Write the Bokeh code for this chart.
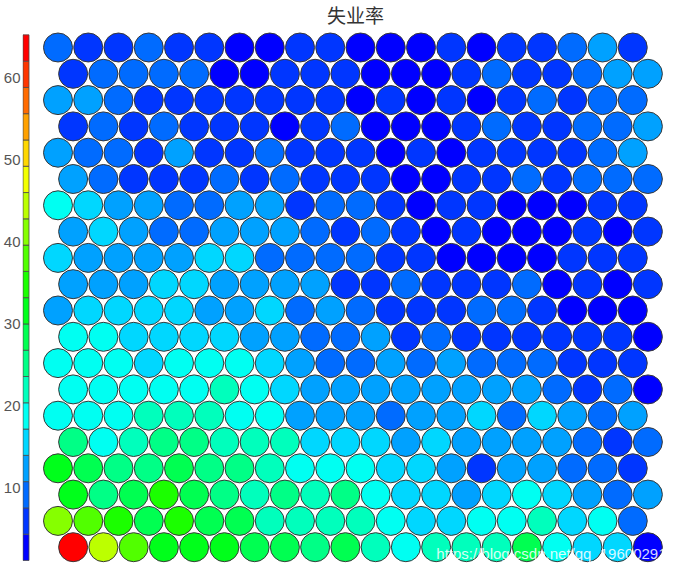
import colorsys
from bokeh.plotting import figure
from bokeh.models import Range1d, LinearAxis, LinearColorMapper, ColumnDataSource, FixedTicker
from bokeh.transform import transform
from bokeh.core.properties import value
from bokeh.embed import file_html
from bokeh.resources import INLINE

title_text = "失业率"
watermark = "https://blog.csdn.net/qq_19600291"
cbar_ticks = [10, 20, 30, 40, 50, 60]

# SOM component plane values, rows from top to bottom, 20 units per row
r00 = [9.2, 5.7, 6.1, 8.8, 5.9, 6.4, 3.0, 2.6, 5.5, 6.0, 3.4, 2.8, 2.5, 6.2, 3.1, 5.8, 6.3, 9.4, 12.5, 5.6]
r01 = [5.9, 9.5, 9.0, 8.7, 9.3, 2.4, 2.9, 6.1, 5.7, 6.0, 2.7, 2.3, 3.2, 6.4, 9.1, 5.8, 6.2, 9.6, 12.4, 12.9]
r02 = [12.6, 13.1, 9.2, 5.8, 6.3, 5.6, 7.0, 6.1, 5.9, 6.2, 2.6, 6.0, 2.8, 5.7, 3.0, 6.3, 10.1, 5.9, 9.4, 9.0]
r03 = [5.7, 9.3, 6.4, 9.7, 6.0, 5.8, 6.2, 2.5, 6.1, 9.9, 2.9, 2.4, 3.1, 6.0, 10.2, 5.9, 6.3, 9.2, 9.5, 12.8]
r04 = [12.4, 9.4, 9.8, 5.9, 13.2, 6.1, 5.7, 9.1, 6.2, 6.0, 6.6, 2.7, 6.5, 2.6, 6.1, 5.8, 6.3, 6.0, 9.7, 13.5]
r05 = [12.2, 9.3, 5.8, 6.1, 6.3, 9.5, 6.0, 9.2, 5.9, 6.2, 6.8, 2.8, 3.0, 6.1, 5.7, 10.0, 6.2, 9.3, 9.6, 9.4]
r06 = [19.2, 16.3, 13.0, 13.2, 9.4, 9.1, 13.1, 12.9, 5.8, 9.3, 10.0, 6.7, 2.9, 6.1, 5.9, 2.6, 2.5, 3.0, 6.2, 6.0]
r07 = [12.3, 16.1, 12.7, 8.9, 9.3, 12.8, 12.6, 13.2, 9.2, 5.6, 9.8, 6.5, 2.8, 6.0, 2.6, 2.4, 2.7, 6.4, 2.9, 6.6]
r08 = [15.8, 12.8, 12.7, 12.9, 13.2, 16.4, 16.5, 8.8, 9.2, 9.5, 9.9, 6.4, 6.6, 2.7, 2.5, 2.8, 2.6, 6.6, 6.5, 7.0]
r09 = [12.5, 12.6, 12.4, 16.3, 16.4, 12.8, 12.9, 13.2, 13.1, 5.3, 6.6, 9.8, 6.5, 6.7, 6.6, 9.4, 2.6, 6.3, 2.8, 6.6]
r10 = [11.9, 16.1, 16.2, 16.0, 16.4, 12.4, 12.8, 16.5, 8.8, 12.9, 9.2, 6.4, 6.6, 6.5, 9.8, 9.9, 6.3, 2.9, 2.7, 2.6]
r11 = [17.9, 18.4, 15.9, 15.8, 16.2, 15.9, 12.4, 12.8, 8.8, 9.3, 12.4, 6.4, 9.8, 6.4, 6.6, 6.6, 6.6, 6.7, 6.9, 2.9]
r12 = [18.1, 18.3, 18.0, 16.2, 18.9, 18.8, 18.2, 16.1, 12.4, 8.8, 9.4, 11.8, 9.7, 13.1, 9.4, 10.0, 9.9, 6.1, 6.4, 6.4]
r13 = [18.7, 18.3, 18.2, 18.5, 18.9, 21.6, 18.7, 16.1, 12.5, 12.4, 12.8, 12.9, 12.8, 12.9, 12.7, 12.5, 9.0, 5.6, 9.2, 2.4]
r14 = [18.8, 18.2, 18.3, 21.5, 21.8, 21.6, 18.5, 18.2, 12.1, 12.4, 12.4, 8.9, 12.8, 12.9, 16.3, 8.8, 16.4, 12.9, 9.1, 12.8]
r15 = [24.2, 18.2, 21.5, 24.0, 24.9, 21.9, 21.9, 21.5, 15.8, 15.9, 15.9, 12.4, 16.1, 12.4, 12.5, 12.4, 12.4, 8.8, 5.6, 9.1]
r16 = [31.2, 28.6, 24.8, 25.5, 29.1, 24.6, 25.4, 22.3, 18.4, 18.5, 18.3, 16.1, 16.3, 12.7, 5.4, 12.4, 12.6, 8.8, 9.1, 6.0]
r17 = [31.8, 24.6, 28.3, 34.5, 28.0, 24.7, 22.0, 24.9, 22.1, 25.6, 18.9, 16.1, 16.3, 12.4, 15.8, 18.6, 16.1, 12.4, 9.1, 12.8]
r18 = [41.3, 37.6, 34.4, 28.4, 34.2, 28.6, 28.3, 22.2, 22.0, 21.7, 21.6, 18.9, 16.3, 16.0, 18.9, 19.0, 22.4, 16.3, 18.7, 9.1]
r19 = [65.2, 44.6, 37.2, 31.3, 31.6, 32.2, 28.7, 28.9, 25.4, 28.5, 22.4, 19.1, 22.0, 22.9, 21.9, 28.8, 18.7, 16.2, 16.1, 1.1]
rows = [r00, r01, r02, r03, r04, r05, r06, r07, r08, r09,
        r10, r11, r12, r13, r14, r15, r16, r17, r18, r19]

# palette: 20 hue steps from blue to red
n_levels = 20
palette = []
for i in range(n_levels):
    h = (240.0 * (1 - i / (n_levels - 1))) / 360.0
    r, g, b = colorsys.hsv_to_rgb(h, 1.0, 1.0)
    palette.append("#%02x%02x%02x" % (int(round(r * 255)), int(round(g * 255)), int(round(b * 255))))

all_vals = [v for row in rows for v in row]
vmin, vmax = min(all_vals), max(all_vals)
mapper = LinearColorMapper(palette=palette, low=vmin, high=vmax)

# hexagonal grid geometry (reference pixel space)
x0, dx, y0, dy = 57.5, 30.25, 47.0, 26.3
xs, ys, vals = [], [], []
for ri, row in enumerate(rows):
    for ci, v in enumerate(row):
        xs.append(x0 + ci * dx + (dx / 2 if ri % 2 == 1 else 0))
        ys.append(y0 + ri * dy)
        vals.append(v)
src = ColumnDataSource(dict(x=xs, y=ys, val=vals))

p = figure(width=680, height=564, x_range=Range1d(22, 680), y_range=Range1d(564, 0),
           output_backend="svg", toolbar_location=None,
           x_axis_location=None, y_axis_location=None,
           min_border_left=22, min_border_right=0, min_border_top=0, min_border_bottom=0)
p.grid.visible = False
p.outline_line_color = None
p.background_fill_color = "white"

# colorbar value range mapped to reference pixels: 60 at y=77, 10 at y=487
px_per_unit = 8.2
cb_start = 10 - (564 - 487) / px_per_unit
cb_end = 60 + (77 - 0) / px_per_unit
p.extra_y_ranges = {"cb": Range1d(cb_start, cb_end)}

step = (vmax - vmin) / n_levels
edges = [vmin + i * step for i in range(n_levels + 1)]
p.quad(left=22.5, right=28.5, bottom=edges[:-1], top=edges[1:], fill_color=palette,
       line_color="#4a4a4a", line_width=0.8, y_range_name="cb")

cax = LinearAxis(y_range_name="cb", ticker=FixedTicker(ticks=cbar_ticks))
cax.axis_line_color = None
cax.major_tick_line_color = None
cax.minor_tick_line_color = None
cax.major_tick_out = 0
cax.major_tick_in = 0
cax.minor_tick_out = 0
cax.major_label_standoff = 2
cax.major_label_text_font = "Liberation Sans"
cax.major_label_text_font_size = "15px"
cax.major_label_text_color = "#555555"
p.add_layout(cax, "left")

p.scatter(x="x", y="y", size=29, marker="circle", source=src,
          fill_color=transform("val", mapper), line_color="#383838", line_width=1)

p.text(x=[355], y=[14], text=[title_text], text_align="center", text_baseline="middle",
       text_font=value("Noto Sans CJK SC"), text_font_size="19px", text_color="#333333")

p.text(x=[666], y=[553], text=[watermark], text_align="right", text_baseline="middle",
       text_font=value("Liberation Sans"), text_font_size="15px", text_color="white",
       text_alpha=0.85)

open("out.html", "w").write(file_html(p, INLINE))
